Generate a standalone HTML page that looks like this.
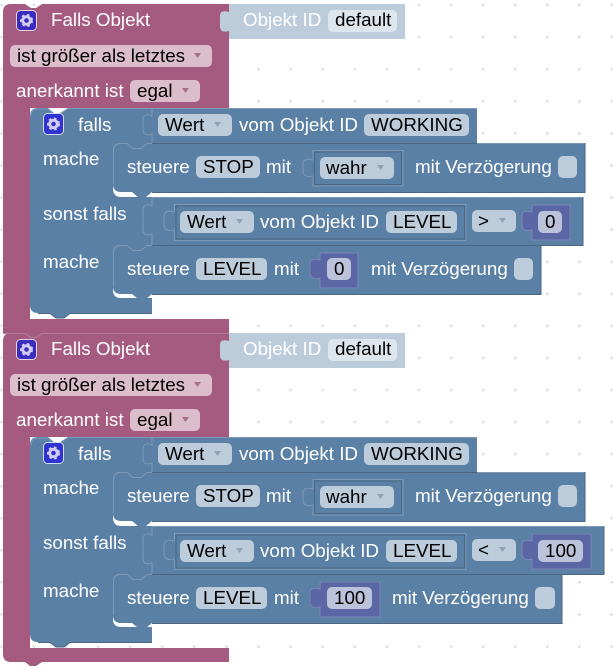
<!DOCTYPE html>
<html><head><meta charset="utf-8"><style>
html,body{margin:0;padding:0;background:#fff;width:614px;height:670px;overflow:hidden}
svg{display:block}
text{font-family:"Liberation Sans",Arial,sans-serif;font-size:18.8px;fill:#fff}
.k{fill:#000}
.pf{fill:#dcbdcc}.bf{fill:#bdccdb}.nf{fill:#bdc2db}.lf{fill:#dee6ed}
.a{fill:#8fa3b8}.ap{fill:#a5708c}
.s{fill:none;stroke:#7c99b7;stroke-width:1}
.d{fill:none;stroke:#496684;stroke-width:1}
.o{fill:#5b80a5;stroke:#7c99b7;stroke-width:1}
.n{fill:#5b67a5;stroke:#7c85b7;stroke-width:1}
.ib{fill:none;stroke:#496684;stroke-width:1}
.in{fill:none;stroke:#495284;stroke-width:1}
.gr{fill:none;stroke:#d3ccf2;stroke-width:3}
.gt{fill:none;stroke:#d3ccf2;stroke-width:2;stroke-dasharray:2.600 2.630}
</style></head><body>
<svg width="614" height="670" viewBox="0 0 614 670" xmlns="http://www.w3.org/2000/svg">
<defs>
<pattern id="g" x="1.7" y="5" width="32.1" height="32.08" patternUnits="userSpaceOnUse">
<path d="M0 -1.500V1.500M-1.500 0H1.500M32.100 -1.500V1.500M30.600 0H33.600M0 30.600V33.600M-1.500 32.080H1.500M32.100 30.600V33.600M30.600 32.080H33.600" stroke="#d8d8d8" stroke-width="1"/>
</pattern>
</defs>
<rect width="614" height="670" fill="#fff"/>
<rect width="614" height="670" fill="url(#g)"/>

<!-- BLOCK 1 -->
<path d="M3 12Q3 4 11 4H25L31 8H36L42 4H229V108H30V319H229V333H42L36 337H30L25 333H3Z" fill="#a55b80"/>
<path d="M229 4H405V39H229V31C222 33 220 30 220 26V16C220 12 222 10 229 12Z" fill="#bdccdb"/>
<path d="M30 116Q30 108 38 108H48L54 113H60L68 108H477V143H121Q113 143 113 151V188Q113 197 121 197H152V245H121Q113 245 113 253V290Q113 298 121 298H152V313H70L64 318H56L50 313H38Q30 313 30 305Z" fill="#5b80a5"/>
<path d="M121 143H585V192H152L146 197H138L132 192H121Q113 192 113 184V151Q113 143 121 143Z" fill="#5b80a5"/>
<path d="M152 197H583V245H152Z" fill="#5b80a5"/>
<path d="M121 245H541V294H152L146 299H138L132 294H121Q113 294 113 286V253Q113 245 121 245Z" fill="#5b80a5"/>
<path class="s" d="M31 116Q31 109 38 109H48L54 114H60L68 108.500H477M152 109V116C146 113 143 116 143 120V130C143 134 146 136 152 134V143"/>
<path class="s" d="M113.500 184V151Q113.500 143.500 121 143.500H127L133 148.500H141L147 143.500H585M152 197.500H583M113.500 286V253Q113.500 245.500 121 245.500H127L133 250.500H141L147 245.500H541M152 198V206C146 203 143 206 143 210V230C143 234 146 236 152 234V245"/>
<path class="d" d="M477 143.500H152M585 143V192.500H152M583 197V245.500H152M541 245V294.500H152M152 313.500H70L64 318H56L50 313.500H38"/>

<rect x="16.500" y="10.500" width="20" height="20" rx="4" fill="#3b2cc0" stroke="#e8d5e0"/>
<circle class="gr" cx="26.500" cy="20.500" r="3.800"/><circle class="gt" cx="26.500" cy="20.500" r="5.500"/>
<text x="51" y="26">Falls Objekt</text>
<text x="243" y="26">Objekt ID</text>
<rect class="lf" x="328" y="10" width="69" height="22" rx="5"/>
<text class="k" x="335" y="26">default</text>
<rect class="pf" x="10" y="45" width="202" height="22" rx="5"/>
<text class="k" x="17" y="62">ist größer als letztes</text>
<path class="ap" d="M194 53h7l-3.500 5z"/>
<text x="16" y="97">anerkannt ist</text>
<rect class="pf" x="130" y="80" width="70" height="22" rx="5"/>
<text class="k" x="137" y="97">egal</text>
<path class="ap" d="M182 88h7l-3.500 5z"/>

<rect x="43.500" y="113.500" width="20" height="21" rx="4" fill="#2f33cf" stroke="#cfdcea"/>
<circle class="gr" cx="53.500" cy="124" r="3.800"/><circle class="gt" cx="53.500" cy="124" r="5.500"/>
<text x="78" y="131">falls</text>
<rect class="bf" x="158" y="114" width="74" height="22" rx="5"/>
<text class="k" x="165" y="131">Wert</text>
<path class="a" d="M214 122h7l-3.500 5z"/>
<text x="239" y="131">vom Objekt ID</text>
<rect class="bf" x="364" y="114" width="105" height="22" rx="5"/>
<text class="k" x="371" y="131">WORKING</text>

<text x="43" y="165">mache</text>
<text x="127" y="173">steuere</text>
<rect class="bf" x="196" y="156" width="64" height="22" rx="5"/>
<text class="k" x="203" y="173">STOP</text>
<text x="266" y="173">mit</text>
<path class="o" d="M313 150.500H403V186H313V176C306 178 303 175 303 171V164C303 160 306 158 313 160Z"/>
<rect class="ib" x="314.500" y="152" width="87" height="32.500"/>
<rect class="bf" x="320" y="157" width="74" height="22" rx="5"/>
<text class="k" x="326" y="174">wahr</text>
<path class="a" d="M377 165h7l-3.500 5z"/>
<text x="415" y="173">mit Verzögerung</text>
<rect class="bf" x="558" y="156" width="19" height="22" rx="5"/>

<text x="43" y="220">sonst falls</text>
<path class="o" d="M174.500 204.500H466V240.500H174.500V230C168 232 164 229 164 225V216C164 212 168 210 174.500 212Z"/>
<rect class="ib" x="176" y="206" width="288.500" height="33"/>
<rect class="bf" x="180" y="211" width="74" height="22" rx="5"/>
<text class="k" x="187" y="228">Wert</text>
<path class="a" d="M236 219h7l-3.500 5z"/>
<text x="260" y="228">vom Objekt ID</text>
<rect class="bf" x="386" y="211" width="71" height="22" rx="5"/>
<text class="k" x="393" y="228">LEVEL</text>
<rect class="bf" x="472" y="210" width="44" height="22" rx="5"/>
<text class="k" x="478" y="227">&gt;</text>
<path class="a" d="M499 218h7l-3.500 5z"/>
<path class="n" d="M532 205H570V240H532V230C525 232 522 229 522 225V216C522 212 525 210 532 212Z"/>
<rect class="nf" x="538" y="211" width="24" height="22" rx="5"/>
<text class="k" x="545" y="228">0</text>

<text x="43" y="268">mache</text>
<text x="127" y="275">steuere</text>
<rect class="bf" x="196" y="258" width="71" height="22" rx="5"/>
<text class="k" x="203" y="275">LEVEL</text>
<text x="274" y="275">mit</text>
<path class="n" d="M320 253H358V288H320V278C313 280 310 277 310 273V264C310 260 313 258 320 260Z"/>
<rect class="nf" x="327" y="258" width="24" height="22" rx="5"/>
<text class="k" x="334" y="275">0</text>
<text x="371" y="275">mit Verzögerung</text>
<rect class="bf" x="514" y="258" width="19" height="22" rx="5"/>

<!-- BLOCK 2 -->
<g transform="translate(0 329)">
<path d="M3 12Q3 4 11 4H25L31 8H36L42 4H229V108H30V319H229V333H42L36 337H30L25 333H11Q3 333 3 325Z" fill="#a55b80"/>
<path d="M3 4.500H25L31 8.500H36L42 4.500H229" fill="none" stroke="#b77c99"/>
<path d="M229 4H405V39H229V31C222 33 220 30 220 26V16C220 12 222 10 229 12Z" fill="#bdccdb"/>
<path d="M30 116Q30 108 38 108H48L54 113H60L68 108H477V143H121Q113 143 113 151V188Q113 197 121 197H152V245H121Q113 245 113 253V290Q113 298 121 298H152V313H70L64 318H56L50 313H38Q30 313 30 305Z" fill="#5b80a5"/>
<path d="M121 143H585V192H152L146 197H138L132 192H121Q113 192 113 184V151Q113 143 121 143Z" fill="#5b80a5"/>
<path d="M152 197H604V245H152Z" fill="#5b80a5"/>
<path d="M121 245H562V294H152L146 299H138L132 294H121Q113 294 113 286V253Q113 245 121 245Z" fill="#5b80a5"/>
<path class="s" d="M31 116Q31 109 38 109H48L54 114H60L68 108.500H477M152 109V116C146 113 143 116 143 120V130C143 134 146 136 152 134V143"/>
<path class="s" d="M113.500 184V151Q113.500 143.500 121 143.500H127L133 148.500H141L147 143.500H585M152 197.500H604M113.500 286V253Q113.500 245.500 121 245.500H127L133 250.500H141L147 245.500H562M152 198V206C146 203 143 206 143 210V230C143 234 146 236 152 234V245"/>
<path class="d" d="M477 143.500H152M585 143V192.500H152M604 197V245.500H152M562 245V294.500H152M152 313.500H70L64 318H56L50 313.500H38"/>

<rect x="16.500" y="10.500" width="20" height="20" rx="4" fill="#3b2cc0" stroke="#e8d5e0"/>
<circle class="gr" cx="26.500" cy="20.500" r="3.800"/><circle class="gt" cx="26.500" cy="20.500" r="5.500"/>
<text x="51" y="26">Falls Objekt</text>
<text x="243" y="26">Objekt ID</text>
<rect class="lf" x="328" y="10" width="69" height="22" rx="5"/>
<text class="k" x="335" y="26">default</text>
<rect class="pf" x="10" y="45" width="202" height="22" rx="5"/>
<text class="k" x="17" y="62">ist größer als letztes</text>
<path class="ap" d="M194 53h7l-3.500 5z"/>
<text x="16" y="97">anerkannt ist</text>
<rect class="pf" x="130" y="80" width="70" height="22" rx="5"/>
<text class="k" x="137" y="97">egal</text>
<path class="ap" d="M182 88h7l-3.500 5z"/>

<rect x="43.500" y="113.500" width="20" height="21" rx="4" fill="#2f33cf" stroke="#cfdcea"/>
<circle class="gr" cx="53.500" cy="124" r="3.800"/><circle class="gt" cx="53.500" cy="124" r="5.500"/>
<text x="78" y="131">falls</text>
<rect class="bf" x="158" y="114" width="74" height="22" rx="5"/>
<text class="k" x="165" y="131">Wert</text>
<path class="a" d="M214 122h7l-3.500 5z"/>
<text x="239" y="131">vom Objekt ID</text>
<rect class="bf" x="364" y="114" width="105" height="22" rx="5"/>
<text class="k" x="371" y="131">WORKING</text>

<text x="43" y="165">mache</text>
<text x="127" y="173">steuere</text>
<rect class="bf" x="196" y="156" width="64" height="22" rx="5"/>
<text class="k" x="203" y="173">STOP</text>
<text x="266" y="173">mit</text>
<path class="o" d="M313 150.500H403V186H313V176C306 178 303 175 303 171V164C303 160 306 158 313 160Z"/>
<rect class="ib" x="314.500" y="152" width="87" height="32.500"/>
<rect class="bf" x="320" y="157" width="74" height="22" rx="5"/>
<text class="k" x="326" y="174">wahr</text>
<path class="a" d="M377 165h7l-3.500 5z"/>
<text x="415" y="173">mit Verzögerung</text>
<rect class="bf" x="558" y="156" width="19" height="22" rx="5"/>

<text x="43" y="220">sonst falls</text>
<path class="o" d="M174.500 204.500H466V240.500H174.500V230C168 232 164 229 164 225V216C164 212 168 210 174.500 212Z"/>
<rect class="ib" x="176" y="206" width="288.500" height="33"/>
<rect class="bf" x="180" y="211" width="74" height="22" rx="5"/>
<text class="k" x="187" y="228">Wert</text>
<path class="a" d="M236 219h7l-3.500 5z"/>
<text x="260" y="228">vom Objekt ID</text>
<rect class="bf" x="386" y="211" width="71" height="22" rx="5"/>
<text class="k" x="393" y="228">LEVEL</text>
<rect class="bf" x="472" y="210" width="44" height="22" rx="5"/>
<text class="k" x="478" y="227">&lt;</text>
<path class="a" d="M499 218h7l-3.500 5z"/>
<path class="n" d="M532 205H591V240H532V230C525 232 522 229 522 225V216C522 212 525 210 532 212Z"/>
<rect class="nf" x="538" y="211" width="45" height="22" rx="5"/>
<text class="k" x="545" y="228">100</text>

<text x="43" y="268">mache</text>
<text x="127" y="275">steuere</text>
<rect class="bf" x="196" y="258" width="71" height="22" rx="5"/>
<text class="k" x="203" y="275">LEVEL</text>
<text x="274" y="275">mit</text>
<path class="n" d="M320 253H380V288H320V278C313 280 310 277 310 273V264C310 260 313 258 320 260Z"/>
<rect class="nf" x="327" y="258" width="45" height="22" rx="5"/>
<text class="k" x="334" y="275">100</text>
<text x="392" y="275">mit Verzögerung</text>
<rect class="bf" x="535" y="258" width="20" height="22" rx="5"/>
</g>
</svg>
</body></html>
